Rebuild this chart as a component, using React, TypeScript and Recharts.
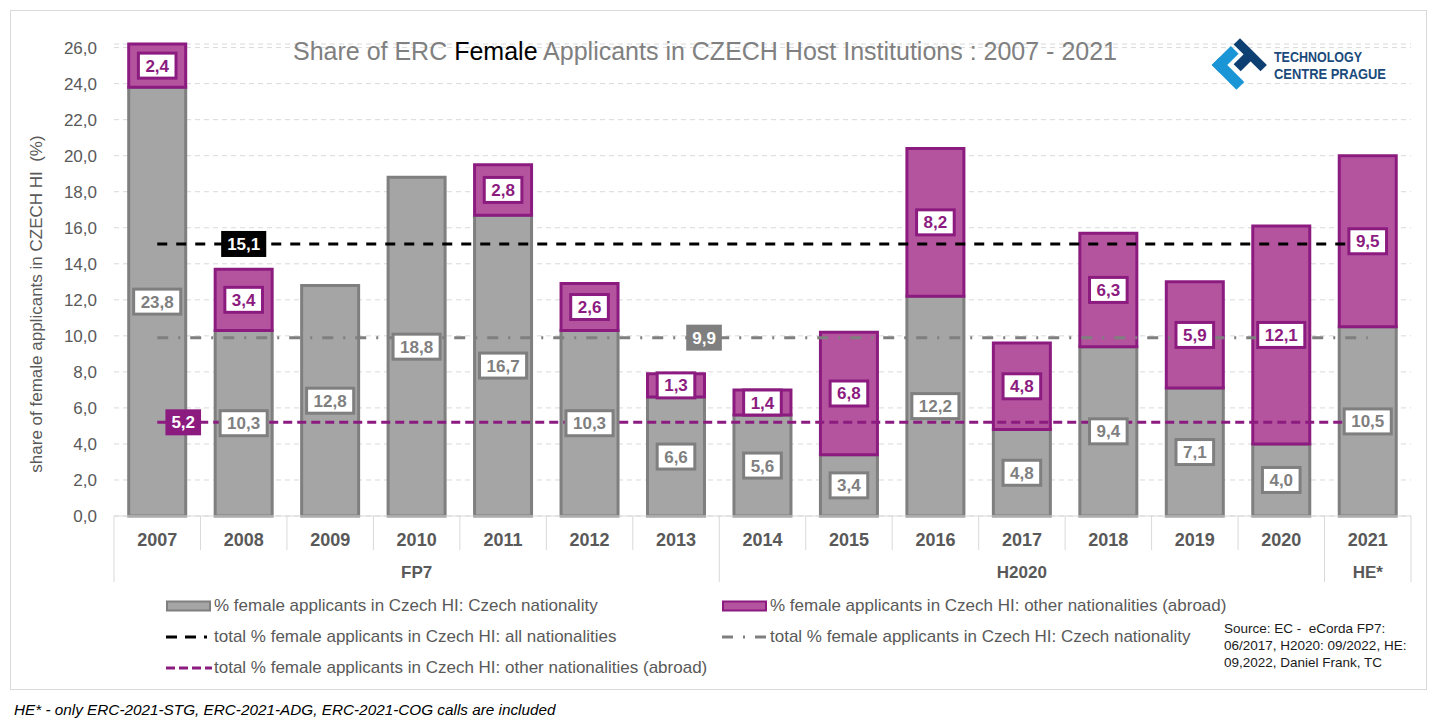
import React from 'react';
import {
  ComposedChart,
  Bar,
  Line,
  XAxis,
  YAxis,
  CartesianGrid,
  LabelList,
} from 'recharts';

// ---------- data ----------
const YEARS = ['2007', '2008', '2009', '2010', '2011', '2012', '2013', '2014', '2015', '2016', '2017', '2018', '2019', '2020', '2021'];
const CZECH_NAT = [23.8, 10.3, 12.8, 18.8, 16.7, 10.3, 6.6, 5.6, 3.4, 12.2, 4.8, 9.4, 7.1, 4.0, 10.5];
const OTHER_NAT = [2.4, 3.4, null, null, 2.8, 2.6, 1.3, 1.4, 6.8, 8.2, 4.8, 6.3, 5.9, 12.1, 9.5];
const TOTAL_ALL = 15.1;
const TOTAL_CZECH = 9.9;
const TOTAL_OTHER = 5.2;
const Y_TICKS = [0, 2, 4, 6, 8, 10, 12, 14, 16, 18, 20, 22, 24, 26];
const GROUPS = [
  { name: 'FP7', from: 0, to: 6 },
  { name: 'H2020', from: 7, to: 13 },
  { name: 'HE*', from: 14, to: 14 },
];

const rows = YEARS.map((year, i) => ({
  year,
  czech: CZECH_NAT[i],
  other: OTHER_NAT[i],
  totalAll: TOTAL_ALL,
  totalCzech: TOTAL_CZECH,
  totalOther: TOTAL_OTHER,
}));

// ---------- layout / style ----------
const CHART_W = 1417;
const CHART_H = 680;
const M_TOP = 34;
const M_RIGHT = 16;
const Y_W = 104;
const X_H = 70;
const M_BOTTOM = 104;
const PLOT_BOTTOM = CHART_H - M_BOTTOM - X_H;
const CAT_W = (CHART_W - Y_W - M_RIGHT) / YEARS.length;

const GRAY_FILL = '#a5a5a5';
const GRAY_STROKE = '#7f7f7f';
const PURPLE_FILL = '#b4549e';
const PURPLE_STROKE = '#8c1b80';
const TEXT = '#595959';
const SEP = '#d9d9d9';
const FONT = '"Liberation Sans", Arial, sans-serif';

const fmt = (v: number) => v.toFixed(1).replace('.', ',');
const textWidth = (s: string, fs: number) =>
  s.split('').reduce((w, c) => w + (c === ',' ? 0.278 : 0.556) * fs, 0);

const makeBarLabel = (stroke: string, color: string) => (props: any) => {
  const { x, y, width, height, value } = props;
  if (value == null) return null;
  const s = fmt(Number(value));
  const fs = 17;
  const w = textWidth(s, fs) + 14;
  const h = 25;
  const cx = Number(x) + Number(width) / 2;
  const cy = Number(y) + Number(height) / 2;
  return (
    <g>
      <rect x={cx - w / 2} y={cy - h / 2} width={w} height={h} fill="#fff" stroke={stroke} strokeWidth={3} />
      <text x={cx} y={cy + 6} textAnchor="middle" fontFamily={FONT} fontWeight="bold" fontSize={fs} fill={color}>
        {s}
      </text>
    </g>
  );
};

const makeLineLabel = (showIndex: number, dx: number, bg: string) => (props: any) => {
  const { x, y, index, value } = props;
  if (index !== showIndex) return null;
  const s = fmt(Number(value));
  const fs = 17;
  const w = textWidth(s, fs) + 12;
  const h = 26;
  const cx = Number(x) + dx;
  const cy = Number(y);
  return (
    <g>
      <rect x={cx - w / 2} y={cy - h / 2} width={w} height={h} fill={bg} />
      <text x={cx} y={cy + 6} textAnchor="middle" fontFamily={FONT} fontWeight="bold" fontSize={fs} fill="#fff">
        {s}
      </text>
    </g>
  );
};

const YearTick = (props: any) => {
  const { x, index, payload } = props;
  const half = CAT_W / 2;
  const top = PLOT_BOTTOM;
  const groupStart = GROUPS.some((g) => g.from === index);
  const group = GROUPS.find((g) => (g.from + g.to) / 2 === index);
  const last = index === YEARS.length - 1;
  return (
    <g>
      <line x1={x - half} x2={x - half} y1={top} y2={top + (groupStart ? 66 : 34)} stroke={SEP} strokeWidth={1} />
      {last && <line x1={x + half} x2={x + half} y1={top} y2={top + 66} stroke={SEP} strokeWidth={1} />}
      <text x={x} y={top + 30} textAnchor="middle" fontFamily={FONT} fontWeight="bold" fontSize={18} fill={TEXT}>
        {payload.value}
      </text>
      {group && (
        <text x={x} y={top + 62} textAnchor="middle" fontFamily={FONT} fontWeight="bold" fontSize={17} fill={TEXT}>
          {group.name}
        </text>
      )}
    </g>
  );
};

const YTitle = () => (
  <text
    x={0}
    y={0}
    transform={`translate(32, 294) rotate(-90)`}
    textAnchor="middle"
    fontFamily={FONT}
    fontSize={17}
    fill={TEXT}
    style={{ whiteSpace: 'pre' }}
  >
    share of female applicants in CZECH HI  (%)
  </text>
);

const LegendSwatch = ({ kind }: { kind: string }) => {
  if (kind === 'gray' || kind === 'purple') {
    return (
      <svg width={46} height={14} style={{ display: 'block' }}>
        <rect
          x={1}
          y={2.5}
          width={43}
          height={9}
          fill={kind === 'gray' ? GRAY_FILL : PURPLE_FILL}
          stroke={kind === 'gray' ? GRAY_STROKE : PURPLE_STROKE}
          strokeWidth={2}
        />
      </svg>
    );
  }
  const cfg: Record<string, [string, string, number]> = {
    black: ['#000', '11 8', 41],
    grayline: [GRAY_STROKE, '11 10 2 10', 45],
    purpleline: [PURPLE_STROKE, '9 4', 46],
  };
  const [c, d, len] = cfg[kind];
  return (
    <svg width={46} height={14} style={{ display: 'block' }}>
      <line x1={0} x2={len} y1={7} y2={7} stroke={c} strokeWidth={3} strokeDasharray={d} />
    </svg>
  );
};

const LEGEND = [
  { kind: 'gray', label: '% female applicants in Czech HI: Czech nationality', x: 166, y: 606 },
  { kind: 'purple', label: '% female applicants in Czech HI: other nationalities (abroad)', x: 722, y: 606 },
  { kind: 'black', label: 'total % female applicants in Czech HI: all nationalities', x: 166, y: 637 },
  { kind: 'grayline', label: 'total % female applicants in Czech HI: Czech nationality', x: 722, y: 637 },
  { kind: 'purpleline', label: 'total % female applicants in Czech HI: other nationalities (abroad)', x: 166, y: 668 },
];

const Logo = () => (
  <g>
    <g transform="translate(1240,65) rotate(45)">
      <rect x={-20} y={-7} width={11} height={27} fill="#1a96d6" />
      <rect x={-20} y={9} width={35} height={11} fill="#1a96d6" />
      <rect x={-19} y={-19} width={38} height={9} fill="#0e3f73" />
      <rect x={-5} y={-12} width={10} height={16} fill="#0e3f73" />
    </g>
    <text
      x={1274}
      y={62}
      fontFamily={FONT}
      fontWeight="bold"
      fontSize={14}
      fill="#1b4a7b"
      textLength={88}
      lengthAdjust="spacingAndGlyphs"
    >
      TECHNOLOGY
    </text>
    <text
      x={1274}
      y={79}
      fontFamily={FONT}
      fontWeight="bold"
      fontSize={14}
      fill="#1b4a7b"
      textLength={112}
      lengthAdjust="spacingAndGlyphs"
    >
      CENTRE PRAGUE
    </text>
  </g>
);

export default function App() {
  return (
    <div style={{ position: 'absolute', left: 0, top: 0, width: 1435, height: 727, background: '#fff' }}>
      <div
        style={{
          position: 'absolute',
          left: 10,
          top: 10,
          width: CHART_W,
          height: CHART_H,
          border: '1px solid #d9d9d9',
          boxSizing: 'border-box',
        }}
      />
      <div style={{ position: 'absolute', left: 10, top: 10 }}>
        <ComposedChart
          width={CHART_W}
          height={CHART_H}
          data={rows}
          margin={{ top: M_TOP, right: M_RIGHT, left: 0, bottom: M_BOTTOM }}
          barCategoryGap="17%"
        >
          <CartesianGrid vertical={false} stroke={SEP} strokeDasharray="5 4" />
          <XAxis
            dataKey="year"
            interval={0}
            height={X_H}
            tickLine={false}
            axisLine={{ stroke: SEP }}
            tick={<YearTick />}
          />
          <YAxis
            domain={[0, 26]}
            ticks={Y_TICKS}
            width={Y_W}
            axisLine={false}
            tickLine={false}
            tickMargin={11}
            tickFormatter={(v: number) => fmt(v)}
            tick={{ fill: TEXT, fontSize: 17, fontFamily: FONT }}
            label={<YTitle />}
          />
          <Bar dataKey="czech" stackId="s" fill={GRAY_FILL} stroke={GRAY_STROKE} strokeWidth={3} isAnimationActive={false}>
            <LabelList dataKey="czech" content={makeBarLabel(GRAY_STROKE, GRAY_STROKE)} />
          </Bar>
          <Bar dataKey="other" stackId="s" fill={PURPLE_FILL} stroke={PURPLE_STROKE} strokeWidth={3} isAnimationActive={false}>
            <LabelList dataKey="other" content={makeBarLabel(PURPLE_STROKE, PURPLE_STROKE)} />
          </Bar>
          <Line
            dataKey="totalAll"
            stroke="#000"
            strokeWidth={3}
            strokeDasharray="10 9"
            dot={false}
            activeDot={false}
            isAnimationActive={false}
          >
            <LabelList dataKey="totalAll" content={makeLineLabel(1, 0, '#000')} />
          </Line>
          <Line
            dataKey="totalCzech"
            stroke={GRAY_STROKE}
            strokeWidth={3}
            strokeDasharray="11 10 2 10"
            dot={false}
            activeDot={false}
            isAnimationActive={false}
          >
            <LabelList dataKey="totalCzech" content={makeLineLabel(6, 28, GRAY_STROKE)} />
          </Line>
          <Line
            dataKey="totalOther"
            stroke={PURPLE_STROKE}
            strokeWidth={3}
            strokeDasharray="9 5"
            dot={false}
            activeDot={false}
            isAnimationActive={false}
          >
            <LabelList dataKey="totalOther" content={makeLineLabel(0, 26, PURPLE_STROKE)} />
          </Line>
        </ComposedChart>
      </div>

      <svg width={1435} height={727} style={{ position: 'absolute', left: 0, top: 0, pointerEvents: 'none' }}>
        <text x={705} y={60} textAnchor="middle" fontFamily={FONT} fontSize={25} fill="#808080">
          Share of ERC <tspan fill="#000">Female</tspan> Applicants in CZECH Host Institutions : 2007 - 2021
        </text>
        <Logo />
        <text fontFamily={FONT} fontSize={13.5} fill="#1a1a1a" style={{ whiteSpace: 'pre' }}>
          <tspan x={1224} y={633}>Source: EC -  eCorda FP7:</tspan>
          <tspan x={1224} y={650}>06/2017, H2020: 09/2022, HE:</tspan>
          <tspan x={1224} y={667}>09,2022, Daniel Frank, TC</tspan>
        </text>
        <text x={14} y={715} fontFamily={FONT} fontStyle="italic" fontSize={15.3} fill="#000">
          HE* - only ERC-2021-STG, ERC-2021-ADG, ERC-2021-COG calls are included
        </text>
      </svg>

      {LEGEND.map((item) => (
        <div
          key={item.label}
          style={{
            position: 'absolute',
            left: item.x,
            top: item.y - 10,
            height: 20,
            display: 'flex',
            alignItems: 'center',
            gap: 2,
            fontFamily: FONT,
            fontSize: 17,
            color: TEXT,
            whiteSpace: 'nowrap',
          }}
        >
          <LegendSwatch kind={item.kind} />
          <span>{item.label}</span>
        </div>
      ))}
    </div>
  );
}
